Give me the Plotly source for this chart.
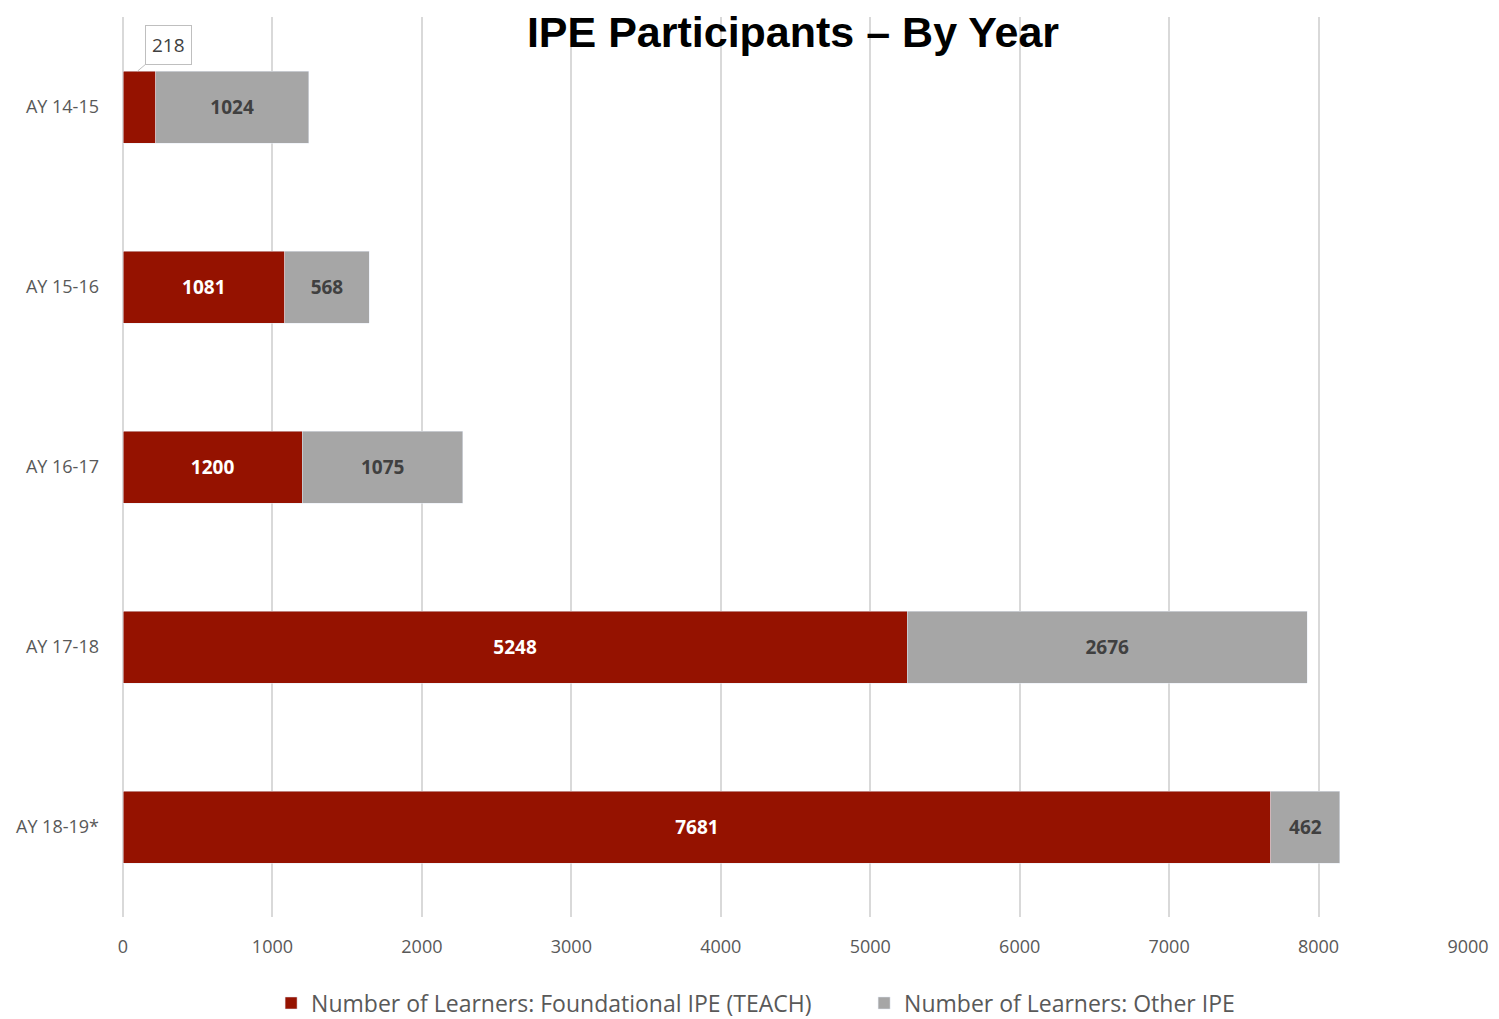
import plotly.graph_objects as go

categories = ["AY 14-15", "AY 15-16", "AY 16-17", "AY 17-18", "AY 18-19*"]
foundational = [218, 1081, 1200, 5248, 7681]
other = [1024, 568, 1075, 2676, 462]
x_ticks = [0, 1000, 2000, 3000, 4000, 5000, 6000, 7000, 8000, 9000]

RED = "#951200"
GRAY = "#A6A6A6"
FONT = "Open Sans"
BAR_W = 0.4

fig = go.Figure()
fig.add_trace(go.Bar(
    y=categories, x=foundational, orientation="h",
    name="Number of Learners: Foundational IPE (TEACH)",
    marker=dict(color=RED),
    text=["" if v < 500 else str(v) for v in foundational],
    textposition="inside", insidetextanchor="middle",
    textfont=dict(family=FONT, size=19, color="white", weight="bold"),
    width=BAR_W,
))
fig.add_trace(go.Bar(
    y=categories, x=other, orientation="h",
    name="Number of Learners: Other IPE",
    marker=dict(color=GRAY),
    text=[str(v) for v in other],
    textposition="inside", insidetextanchor="middle",
    textfont=dict(family=FONT, size=19, color="#404040", weight="bold"),
    width=BAR_W,
))

# callout label for the small first segment
fig.add_annotation(
    x=foundational[0] * 0.45, y=0 - BAR_W / 2,
    ax=foundational[0] * 1.4, ay=-0.345, axref="x", ayref="y",
    xref="x", yref="y",
    text=str(foundational[0]), showarrow=True, arrowhead=0, arrowwidth=1,
    arrowcolor="#BFBFBF", bordercolor="#BFBFBF", borderwidth=1, borderpad=6,
    bgcolor="white", font=dict(family=FONT, size=19, color="#404040"),
)

fig.update_layout(
    barmode="stack",
    width=1491, height=1011,
    margin=dict(l=115, r=31, t=9, b=102, autoexpand=False),
    paper_bgcolor="white", plot_bgcolor="white",
    title=dict(text="<b>IPE Participants – By Year</b>", x=0.5265, xanchor="center",
               y=0.976, yanchor="middle",
               font=dict(family="Liberation Sans", size=43, color="black")),
    legend=dict(orientation="h", x=0.551, xanchor="center", y=-0.0956, yanchor="middle",
                font=dict(family=FONT, size=23, color="#595959"),
                traceorder="normal", itemwidth=30, entrywidth=548, entrywidthmode="pixels"),
    showlegend=True,
)
fig.update_xaxes(range=[0, 9000], tickvals=x_ticks, showgrid=True, gridcolor="#D9D9D9",
                 gridwidth=1.5, zeroline=True, zerolinecolor="#D9D9D9", zerolinewidth=1.5,
                 tickfont=dict(family=FONT, size=18, color="#595959"), ticks="",
                 ticklabelstandoff=17, automargin=False)
fig.update_yaxes(autorange="reversed", showgrid=False,
                 tickfont=dict(family=FONT, size=18, color="#595959"), ticks="",
                 ticklabelstandoff=23, automargin=False)

fig.write_html("out.html")
